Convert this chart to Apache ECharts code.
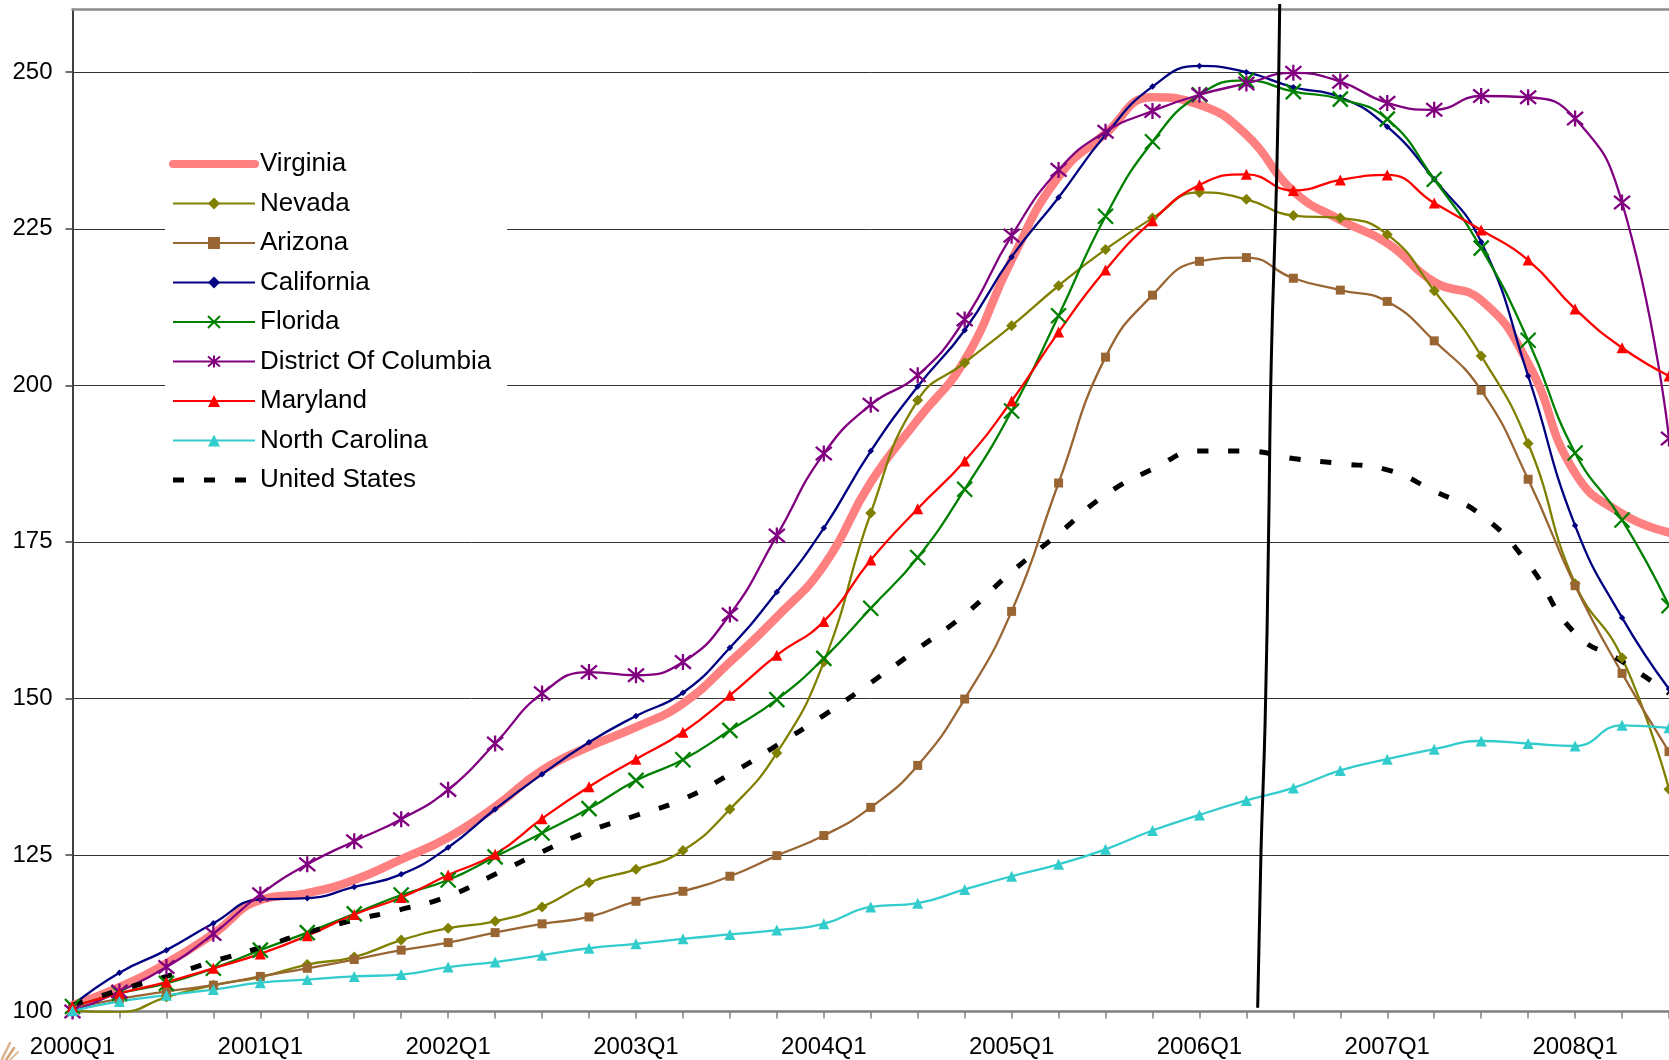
<!DOCTYPE html>
<html>
<head>
<meta charset="utf-8">
<title>House price index, selected states, 2000Q1 = 100</title>
<style>
  html, body { margin: 0; padding: 0; background: #fff; }
  #chart { width: 1669px; height: 1060px; }
</style>
<script src="https://cdn.jsdelivr.net/npm/echarts@6/dist/echarts.min.js"></script>
</head>
<body>
<div id="chart"></div>
<script>
// Quarterly categories, 2000Q1 .. 2008Q3
const quarters = [
  '2000Q1','2000Q2','2000Q3','2000Q4',
  '2001Q1','2001Q2','2001Q3','2001Q4',
  '2002Q1','2002Q2','2002Q3','2002Q4',
  '2003Q1','2003Q2','2003Q3','2003Q4',
  '2004Q1','2004Q2','2004Q3','2004Q4',
  '2005Q1','2005Q2','2005Q3','2005Q4',
  '2006Q1','2006Q2','2006Q3','2006Q4',
  '2007Q1','2007Q2','2007Q3','2007Q4',
  '2008Q1','2008Q2','2008Q3'
];

// Index values (2000Q1 = 100)
const virginia = [101.0,103.9,107.7,112.4,117.8,118.9,121.0,124.3,127.8,132.7,138.5,142.3,145.4,149.2,155.8,163.0,171.2,184.5,194.5,204.0,220.0,233.3,240.2,246.0,244.8,240.0,231.0,226.4,222.7,216.5,213.6,203.5,186.0,179.5,176.5];
const nevada = [100.1,99.9,102.3,104.2,105.5,107.5,108.7,111.4,113.3,114.4,116.7,120.6,122.7,125.7,132.3,141.3,155.8,179.6,197.6,203.6,209.5,215.9,221.7,226.7,230.8,229.7,227.1,226.7,224.1,215.1,204.7,190.7,168.3,156.5,135.5];
const arizona = [100.5,102.0,103.2,104.2,105.6,106.9,108.3,109.8,111.0,112.6,114.0,115.1,117.6,119.2,121.6,124.9,128.1,132.6,139.3,149.9,163.9,184.4,204.5,214.4,219.8,220.4,217.1,215.2,213.4,207.1,199.2,185.0,168.0,154.0,141.5];
const california = [101.0,106.2,109.8,114.1,117.9,118.1,119.9,121.9,126.2,132.3,137.9,143.0,147.2,150.9,158.1,167.0,177.2,189.5,199.8,208.8,220.5,230.0,240.0,247.7,251.0,250.0,247.6,246.0,241.3,232.9,222.9,201.5,177.6,162.9,151.5];
const florida = [100.8,102.9,104.5,106.9,109.8,112.6,115.6,118.6,121.0,124.7,128.5,132.4,136.9,140.2,144.9,149.8,156.4,164.4,172.5,183.4,195.9,211.1,227.0,238.9,246.4,248.7,246.9,245.7,242.5,232.9,221.9,207.2,189.2,178.5,164.8];
const districtOfColumbia = [100.0,103.2,107.1,112.4,118.7,123.5,127.2,130.7,135.4,142.8,150.8,154.2,153.7,155.8,163.4,176.0,189.1,196.9,201.6,210.5,223.9,234.4,240.5,243.8,246.4,248.2,249.9,248.5,245.1,244.0,246.2,246.0,242.6,229.2,191.5];
const maryland = [100.8,102.9,104.7,106.9,109.2,112.1,115.5,118.2,121.8,125.1,130.8,135.9,140.3,144.6,150.5,156.9,162.3,172.1,180.3,187.9,197.5,208.5,218.4,226.3,232.0,233.7,231.1,232.8,233.6,229.1,224.8,220.0,212.2,206.0,201.5];
const northCarolina = [100.1,101.6,102.6,103.5,104.6,105.1,105.6,105.9,107.1,107.9,109.0,110.1,110.8,111.6,112.3,113.0,114.0,116.7,117.3,119.5,121.6,123.5,125.9,128.9,131.4,133.7,135.7,138.5,140.3,141.9,143.2,142.8,142.4,145.7,145.3];
const unitedStates = [101.0,103.4,105.6,108.0,110.2,112.6,114.6,116.3,118.4,121.9,125.5,128.8,131.3,133.9,137.9,142.5,147.3,152.5,157.9,163.4,170.2,176.3,182.5,186.6,189.5,189.5,188.3,187.5,186.5,183.1,179.3,171.5,160.4,155.9,150.8];

// Value axis range and step
const yMin = 100, yMax = 260, yStep = 25;

// Hand-drawn divider near the 2006 peak: [quarter position, index level]
const divider = [[25.71, 260.9], [25.65, 234.9], [25.53, 204.0], [25.47, 175.0], [25.40, 146.6], [25.31, 125.3], [25.24, 100.6]];

const FONT = "'Liberation Sans', Arial, Helvetica, sans-serif";

const crossPath = 'path://M0,0L10,10M10,0L0,10';
const asteriskPath = 'path://M0,0L10,10M10,0L0,10M5,-1L5,11';

function markerSeries(name, data, color, symbol, size, stroked) {
  return {
    name, type: 'line', data,
    xAxisIndex: 0,
    smooth: true,
    symbol, symbolSize: size,
    lineStyle: { color, width: 2.3 },
    itemStyle: stroked
      ? { color, borderColor: color, borderWidth: 2.3 }
      : { color, borderWidth: 0 },
    emphasis: { disabled: true }
  };
}

const series = [
  {
    name: 'Virginia', type: 'line', data: virginia, xAxisIndex: 0,
    smooth: true, symbol: 'none',
    lineStyle: { color: '#ff8080', width: 8.5, cap: 'round', join: 'round' },
    itemStyle: { color: '#ff8080' },
    emphasis: { disabled: true }
  },
  markerSeries('Nevada', nevada, '#808000', 'diamond', 11, false),
  markerSeries('Arizona', arizona, '#996633', 'rect', 9, false),
  markerSeries('California', california, '#000080', 'diamond', 6.5, false),
  markerSeries('Florida', florida, '#008000', crossPath, 15, true),
  markerSeries('District Of Columbia', districtOfColumbia, '#800080', asteriskPath, 16, true),
  markerSeries('Maryland', maryland, '#ff0000', 'triangle', 11, false),
  markerSeries('North Carolina', northCarolina, '#33cccc', 'triangle', 11, false),
  {
    name: 'United States', type: 'line', data: unitedStates, xAxisIndex: 0,
    smooth: true, symbol: 'none',
    lineStyle: { color: '#000', width: 5, type: [11, 20] },
    itemStyle: { color: '#000' },
    emphasis: { disabled: true }
  },
  {
    name: 'divider', type: 'line', data: divider, xAxisIndex: 1,
    smooth: true, symbol: 'none', clip: false, silent: true,
    lineStyle: { color: '#000', width: 3 },
    emphasis: { disabled: true }
  }
];

const legendData = [
  { name: 'Virginia', lineStyle: { width: 8 }, itemStyle: { opacity: 0 } },
  { name: 'Nevada' },
  { name: 'Arizona' },
  { name: 'California' },
  { name: 'Florida' },
  { name: 'District Of Columbia' },
  { name: 'Maryland' },
  { name: 'North Carolina' },
  { name: 'United States', lineStyle: { width: 5 }, itemStyle: { opacity: 0 } }
];

const chart = echarts.init(document.getElementById('chart'), null, { renderer: 'canvas' });

chart.setOption({
  animation: false,
  backgroundColor: '#fff',
  grid: { left: 72.5, top: 9.6, width: 1599.7, height: 1001.9, containLabel: false },
  legend: {
    orient: 'vertical',
    left: 165, top: 136,
    padding: [15, 16, 15, 4],
    backgroundColor: '#fff',
    itemWidth: 82, itemHeight: 15, itemGap: 13.5,
    selectedMode: false,
    textStyle: { fontSize: 26, fontFamily: FONT, color: '#000' },
    data: legendData
  },
  // small brush-stroke emblem in the lower-left corner
  graphic: [
    { type: 'line', silent: true, shape: { x1: 2, y1: 1059, x2: 10, y2: 1043 }, style: { stroke: '#d2a070', lineWidth: 2.5, lineCap: 'round', opacity: 0.8 } },
    { type: 'line', silent: true, shape: { x1: 6, y1: 1060, x2: 14, y2: 1048 }, style: { stroke: '#c88c55', lineWidth: 2.5, lineCap: 'round', opacity: 0.8 } },
    { type: 'line', silent: true, shape: { x1: 10, y1: 1060, x2: 18, y2: 1052 }, style: { stroke: '#d9ae84', lineWidth: 2, lineCap: 'round', opacity: 0.8 } }
  ],
  xAxis: [
    {
      type: 'category', data: quarters, boundaryGap: false,
      axisLine: { lineStyle: { color: '#808080', width: 2.5 } },
      axisTick: { show: true, interval: 0, length: 7, lineStyle: { color: '#808080', width: 1.5 } },
      axisLabel: { interval: 3, margin: 24, color: '#000', fontSize: 24, fontFamily: FONT },
      splitLine: { show: false }
    },
    {
      type: 'value', position: 'top', min: 0, max: quarters.length - 1,
      axisLine: { show: true, onZero: false, lineStyle: { color: '#8c8c8c', width: 2.5 } },
      axisTick: { show: false }, axisLabel: { show: false }, splitLine: { show: false }
    }
  ],
  yAxis: {
    type: 'value', min: yMin, max: yMax, interval: yStep,
    axisLine: { show: true, lineStyle: { color: '#404040', width: 2 } },
    axisTick: { show: true, length: 7, lineStyle: { color: '#404040', width: 1.5 } },
    axisLabel: { margin: 20, color: '#000', fontSize: 24, fontFamily: FONT, showMaxLabel: false },
    splitLine: { lineStyle: { color: '#333', width: 1 } }
  },
  series
});
</script>
</body>
</html>
